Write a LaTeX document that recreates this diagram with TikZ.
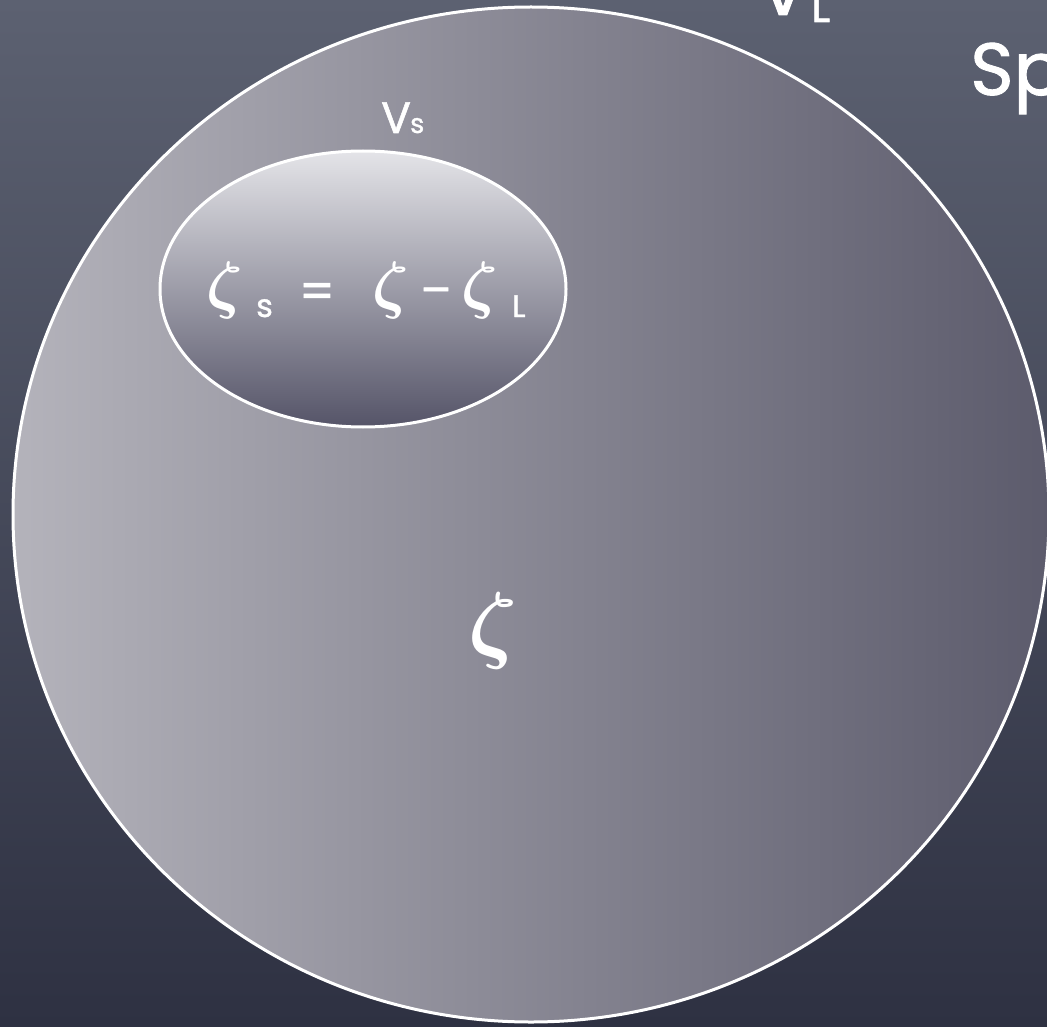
\documentclass[tikz,border=0pt]{standalone}
\usepackage{fontspec}
\setmainfont{Poppins}[FakeBold=1.2,AutoFakeBold=1.2]
\newfontfamily\labelfont{Poppins}[FakeBold=1.2,AutoFakeBold=1.2]
\usetikzlibrary{shapes.geometric}
\definecolor{bgtop}{HTML}{5C6171}
\definecolor{bgbot}{HTML}{2E3142}
\definecolor{circL}{HTML}{B4B3BB}
\definecolor{circR}{HTML}{5C5B6C}
\definecolor{ellT}{HTML}{E4E4E8}
\definecolor{ellM}{HTML}{9C9CA6}
\definecolor{ellB}{HTML}{555468}
\begin{document}
\begin{tikzpicture}[x=1pt,y=-1pt,
  lbl/.style={text=white, inner sep=0pt},
  zeta/.style={text=white, inner sep=0pt, font=\fontsize{10}{12}\selectfont\boldmath},
  region/.style={ellipse, draw=white, line width=3pt, inner sep=0pt}
]
\useasboundingbox (0,0) rectangle (1047,1027);
\clip (0,0) rectangle (1047,1027);
\shade[top color=bgtop, bottom color=bgbot] (0,0) rectangle (1047,1027);

% big region
\node[region, left color=circL, right color=circR,
      minimum width=1036pt, minimum height=1015pt] (big) at (531,514.5) {};

% small region
\node[region, top color=ellT, middle color=ellM, bottom color=ellB,
      minimum width=406pt, minimum height=276pt] (small) at (363,289) {};

% labels
\node[lbl, anchor=base, font=\labelfont\bfseries\fontsize{74}{80}\selectfont] (vl) at (783,15) {V};
\node[lbl, anchor=base west, font=\labelfont\bfseries\fontsize{44}{50}\selectfont] (vlsub) at (811,22) {L};
\node[lbl, anchor=base west, font=\labelfont\bfseries\fontsize{74}{80}\selectfont] (sp) at (970,95) {Sp};

\node[lbl, anchor=base west, font=\labelfont\bfseries\fontsize{44}{50}\selectfont] (vs) at (381,133) {V};
\node[lbl, anchor=base west, font=\labelfont\bfseries\fontsize{27}{30}\selectfont] (vssub) at (410,133) {s};

% equation inside small region
\node[zeta, scale=6.4] (z1) at (225,290) {$\zeta$};
\node[lbl, anchor=base west, font=\labelfont\bfseries\fontsize{32}{36}\selectfont] (e1) at (256,317) {s};
\node[lbl, anchor=center, font=\labelfont\bfseries\fontsize{50}{54}\selectfont] (e2) at (317,296) {=};
\node[zeta, scale=6.4] (z2) at (391,290) {$\zeta$};
\node[lbl, anchor=center, font=\labelfont\bfseries\fontsize{46}{50}\selectfont] (e3) at (436,297) {–};
\node[zeta, scale=6.4] (z3) at (480,290) {$\zeta$};
\node[lbl, anchor=base west, font=\labelfont\bfseries\fontsize{31}{34}\selectfont] (e4) at (512,317) {L};

% zeta in big region
\node[zeta, scale=8.6] (zbig) at (493,631) {$\zeta$};
\end{tikzpicture}
\end{document}
